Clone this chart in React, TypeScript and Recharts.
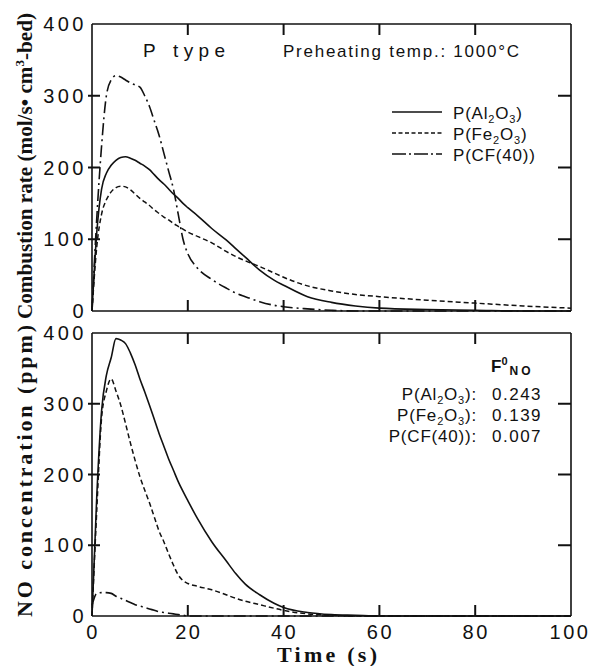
import React from 'react';
import { LineChart, Line, XAxis, YAxis } from 'recharts';

const time = [0,1,2,3,4,5,6,7,8,9,10,11,12,13,14,15,16,17,18,19,20,22,25,28,30,32,35,38,40,45,50,55,60,70,80,90,100];

// Combustion rate (mol/s·cm3-bed)
const rateAl = [0,110,170,192,203,210,214,215,213,210,206,202,197,190,183,177,170,163,157,150,144,133,115,99,87,75,57,43,36,20,12,7,4,2,1,0,0];
const rateFe = [0,90,135,155,166,172,174,173,169,163,157,152,147,141,136,131,127,122,118,114,110,104,95,83,76,70,62,53,47,35,28,23,20,15,11,7,4];
const rateCF = [0,130,230,300,322,328,326,322,318,315,312,300,285,265,245,220,195,170,135,100,80,60,44,32,25,20,13,8,6,3,1,0,0,0,0,0,0];

// NO concentration (ppm)
const noAl = [0,170,290,340,365,392,390,385,372,355,335,317,298,278,258,240,222,206,190,176,163,138,105,78,60,45,30,18,12,5,2,1,0,0,0,0,0];
const noFe = [0,150,280,318,335,318,298,272,245,220,197,178,160,140,120,105,88,72,58,50,46,42,37,30,25,21,16,11,8,3,1,0,0,0,0,0,0];
const noCF = [15,32,33,33,32,28,25,22,19,16,14,12,10,8,6,5,4,3,2,1,0,0,0,0,0,0,0,0,0,0,0,0,0,0,0,0,0];

const xTicks = [0, 20, 40, 60, 80, 100];
const yTicks = [0, 100, 200, 300, 400];

const topData = time.map((t, i) => ({ t, al: rateAl[i], fe: rateFe[i], cf: rateCF[i] }));
const botData = time.map((t, i) => ({ t, al: noAl[i], fe: noFe[i], cf: noCF[i] }));

const SANS = '"Liberation Sans", Arial, Helvetica, sans-serif';
const SERIF = '"Liberation Serif", "Times New Roman", serif';
const INK = '#111';
const TICK_W = 2;

const CHART_W = 592;
const M_LEFT = 91;
const M_RIGHT = 20;
const AXIS_W = 1;
const PLOT_W = CHART_W - M_LEFT - M_RIGHT - 2 * AXIS_W;

const LeftTick = (props: any) => {
  const { x, y, payload } = props;
  const v = payload.value;
  const inner = v !== 0 && v !== 400;
  return (
    <g>
      {inner && <line x1={x - 4} x2={x + 8} y1={y} y2={y} stroke={INK} strokeWidth={TICK_W} />}
      {inner && <line x1={x + PLOT_W - 13} x2={x + PLOT_W} y1={y} y2={y} stroke={INK} strokeWidth={TICK_W} />}
      <text x={x - 5} y={y} dy="0.36em" textAnchor="end" fontFamily={SANS} fontSize={20} letterSpacing={3.5} fill={INK}>
        {v}
      </text>
    </g>
  );
};

const TopTick = (props: any) => {
  const { x, y, payload } = props;
  const v = payload.value;
  return (
    <g>
      {v !== 0 && v !== 100 && <line x1={x} x2={x} y1={y} y2={y + 11} stroke={INK} strokeWidth={TICK_W} />}
    </g>
  );
};

const BottomTickNoLabel = (props: any) => {
  const { x, y, payload } = props;
  const v = payload.value;
  return (
    <g>
      {v !== 0 && v !== 100 && <line x1={x} x2={x} y1={y} y2={y - 11} stroke={INK} strokeWidth={TICK_W} />}
    </g>
  );
};

const BottomTick = (props: any) => {
  const { x, y, payload } = props;
  const v = payload.value;
  return (
    <g>
      {v !== 0 && v !== 100 && (
        <line x1={x} x2={x} y1={y} y2={y - 11} stroke={INK} strokeWidth={TICK_W} />
      )}
      <text x={v === 100 ? x - 1 : x + 1} y={y + 23} textAnchor="middle" fontFamily={SANS} fontSize={20} letterSpacing={2.5} fill={INK}>
        {v}
      </text>
    </g>
  );
};

const axisLine = { stroke: INK, strokeWidth: 1.6 };

const Panel = ({ data, height, marginTop, marginBottom, showXLabels }: any) => (
  <LineChart width={CHART_W} height={height} data={data} margin={{ top: marginTop, right: M_RIGHT, bottom: marginBottom, left: M_LEFT }}>
    <XAxis
      dataKey="t"
      type="number"
      domain={[0, 100]}
      ticks={xTicks}
      height={1}
      tickSize={0}
      tickMargin={0}
      tickLine={false}
      axisLine={axisLine}
      tick={showXLabels ? BottomTick : BottomTickNoLabel}
      interval={0}
    />
    <XAxis
      xAxisId="top"
      orientation="top"
      dataKey="t"
      type="number"
      domain={[0, 100]}
      ticks={xTicks}
      height={1}
      tickSize={0}
      tickMargin={0}
      tickLine={false}
      axisLine={axisLine}
      tick={TopTick}
      interval={0}
    />
    <YAxis
      type="number"
      domain={[0, 400]}
      ticks={yTicks}
      width={AXIS_W}
      tickSize={0}
      tickMargin={0}
      tickLine={false}
      axisLine={axisLine}
      tick={LeftTick}
      interval={0}
    />
    <YAxis
      yAxisId="right"
      orientation="right"
      type="number"
      domain={[0, 400]}
      ticks={yTicks}
      width={AXIS_W}
      tickLine={false}
      axisLine={axisLine}
      tick={false}
    />
    <Line dataKey="al" type="monotone" stroke={INK} strokeWidth={1.6} dot={false} isAnimationActive={false} />
    <Line dataKey="fe" type="monotone" stroke={INK} strokeWidth={1.5} strokeDasharray="5 3" dot={false} isAnimationActive={false} />
    <Line dataKey="cf" type="monotone" stroke={INK} strokeWidth={1.6} strokeDasharray="12 4 2 4" dot={false} isAnimationActive={false} />
  </LineChart>
);

const Formula = ({ el1, el2 }: any) => (
  <>
    {'P(' + el1}
    <tspan dy={4} fontSize={11}>2</tspan>
    <tspan dy={-4}>{el2}</tspan>
    <tspan dy={4} fontSize={11}>3</tspan>
    <tspan dy={-4}>)</tspan>
  </>
);

export default function App() {
  return (
    <div style={{ position: 'absolute', left: 0, top: 0, width: 592, height: 666, background: '#fff' }}>
      <div style={{ position: 'absolute', left: 0, top: 0 }}>
        <Panel data={topData} height={330} marginTop={23} marginBottom={18} showXLabels={false} />
      </div>
      <div style={{ position: 'absolute', left: 0, top: 300 }}>
        <Panel data={botData} height={366} marginTop={32} marginBottom={49} showXLabels={true} />
      </div>
      <svg width={592} height={666} style={{ position: 'absolute', left: 0, top: 0, pointerEvents: 'none' }}>
        {/* Y-axis titles */}
        <text transform="translate(32,166) rotate(-90)" textAnchor="middle" fontFamily={SERIF} fontWeight="bold" fontSize={21} fill={INK} textLength={306} lengthAdjust="spacingAndGlyphs">
          Combustion rate (mol/s• cm<tspan dy={-8} fontSize={13}>3</tspan><tspan dy={8}>-bed)</tspan>
        </text>
        <text transform="translate(32,471) rotate(-90)" textAnchor="middle" fontFamily={SERIF} fontWeight="bold" fontSize={22} fill={INK} textLength={292} lengthAdjust="spacing">
          NO concentration (ppm)
        </text>
        <text x={327} y={662} textAnchor="middle" fontFamily={SERIF} fontWeight="bold" fontSize={22} fill={INK} textLength={100} lengthAdjust="spacing">
          Time (s)
        </text>

        {/* top panel annotations */}
        <text x={143} y={57} fontFamily={SANS} fontSize={19} fill={INK}>P</text>
        <text x={173} y={57} fontFamily={SANS} fontSize={19} fill={INK} textLength={52} lengthAdjust="spacing">type</text>
        <text x={283} y={57} fontFamily={SANS} fontSize={17} fill={INK} textLength={236} lengthAdjust="spacing">
          Preheating  temp.:  1000°C
        </text>

        {/* legend */}
        <line x1={392} x2={442} y1={112} y2={112} stroke={INK} strokeWidth={1.5} />
        <line x1={392} x2={442} y1={133} y2={133} stroke={INK} strokeWidth={1.5} strokeDasharray="4 2.5" />
        <line x1={392} x2={442} y1={154} y2={154} stroke={INK} strokeWidth={1.5} strokeDasharray="14 3 2 3" />
        <text x={453} y={119} fontFamily={SANS} fontSize={17} fill={INK} letterSpacing={0.8}>
          <Formula el1="Al" el2="O" />
        </text>
        <text x={453} y={140} fontFamily={SANS} fontSize={17} fill={INK} letterSpacing={0.8}>
          <Formula el1="Fe" el2="O" />
        </text>
        <text x={453} y={161} fontFamily={SANS} fontSize={17} fill={INK} letterSpacing={0.8}>
          P(CF(40))
        </text>

        {/* bottom panel annotations */}
        <text x={491} y={372} fontFamily={SANS} fontWeight="bold" fontSize={17} fill={INK}>
          F<tspan dy={-7} fontSize={11}>0</tspan><tspan dy={10} dx={2} fontSize={12} letterSpacing={3}>NO</tspan>
        </text>
        <text x={477} y={400} textAnchor="end" fontFamily={SANS} fontSize={17} fill={INK} letterSpacing={0.8}>
          <Formula el1="Al" el2="O" />:
        </text>
        <text x={477} y={421} textAnchor="end" fontFamily={SANS} fontSize={17} fill={INK} letterSpacing={0.8}>
          <Formula el1="Fe" el2="O" />:
        </text>
        <text x={477} y={442} textAnchor="end" fontFamily={SANS} fontSize={17} fill={INK} letterSpacing={0.8}>
          P(CF(40)):
        </text>
        <text x={492} y={400} fontFamily={SANS} fontSize={17} fill={INK} letterSpacing={1.5}>0.243</text>
        <text x={492} y={421} fontFamily={SANS} fontSize={17} fill={INK} letterSpacing={1.5}>0.139</text>
        <text x={492} y={442} fontFamily={SANS} fontSize={17} fill={INK} letterSpacing={1.5}>0.007</text>
      </svg>
    </div>
  );
}
